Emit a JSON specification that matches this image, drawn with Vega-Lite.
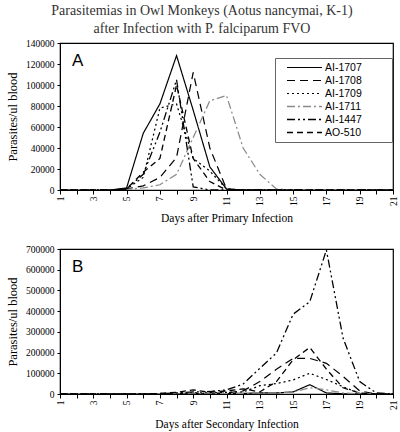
{
  "$schema": "https://vega.github.io/schema/vega-lite/v6.json",
  "background": "white",
  "padding": {"left": 5, "top": 4, "right": 5, "bottom": 4},
  "title": {
    "text": ["Parasitemias in Owl Monkeys (Aotus nancymai, K-1)", "after Infection with P. falciparum FVO"],
    "font": "Liberation Serif", "fontSize": 14, "fontWeight": "normal", "color": "#333",
    "lineHeight": 18, "anchor": "middle", "offset": 1
  },
  "spacing": 18,
  "datasets": {
    "primary": [
      {"day": 1, "AI-1707": 0, "AI-1708": 0, "AI-1709": 0, "AI-1711": 0, "AI-1447": 0, "AO-510": 0},
      {"day": 2, "AI-1707": 0, "AI-1708": 0, "AI-1709": 0, "AI-1711": 0, "AI-1447": 0, "AO-510": 0},
      {"day": 3, "AI-1707": 0, "AI-1708": 0, "AI-1709": 0, "AI-1711": 0, "AI-1447": 0, "AO-510": 0},
      {"day": 4, "AI-1707": 0, "AI-1708": 0, "AI-1709": 0, "AI-1711": 0, "AI-1447": 0, "AO-510": 0},
      {"day": 5, "AI-1707": 2000, "AI-1708": 1000, "AI-1709": 1000, "AI-1711": 500, "AI-1447": 1000, "AO-510": 1000},
      {"day": 6, "AI-1707": 54000, "AI-1708": 4000, "AI-1709": 12000, "AI-1711": 2000, "AI-1447": 15000, "AO-510": 17000},
      {"day": 7, "AI-1707": 82000, "AI-1708": 12000, "AI-1709": 78000, "AI-1711": 5000, "AI-1447": 55000, "AO-510": 30000},
      {"day": 8, "AI-1707": 128000, "AI-1708": 31000, "AI-1709": 82000, "AI-1711": 15000, "AI-1447": 105000, "AO-510": 100000},
      {"day": 9, "AI-1707": 76000, "AI-1708": 112000, "AI-1709": 30000, "AI-1711": 50000, "AI-1447": 3000, "AO-510": 30000},
      {"day": 10, "AI-1707": 22000, "AI-1708": 40000, "AI-1709": 18000, "AI-1711": 85000, "AI-1447": 0, "AO-510": 8000},
      {"day": 11, "AI-1707": 1000, "AI-1708": 1000, "AI-1709": 1000, "AI-1711": 90000, "AI-1447": 0, "AO-510": 0},
      {"day": 12, "AI-1707": 0, "AI-1708": 0, "AI-1709": 0, "AI-1711": 40000, "AI-1447": 0, "AO-510": 0},
      {"day": 13, "AI-1707": 0, "AI-1708": 0, "AI-1709": 0, "AI-1711": 15000, "AI-1447": 0, "AO-510": 0},
      {"day": 14, "AI-1707": 0, "AI-1708": 0, "AI-1709": 0, "AI-1711": 1000, "AI-1447": 0, "AO-510": 0},
      {"day": 15, "AI-1707": 0, "AI-1708": 0, "AI-1709": 0, "AI-1711": 0, "AI-1447": 0, "AO-510": 0},
      {"day": 16, "AI-1707": 0, "AI-1708": 0, "AI-1709": 0, "AI-1711": 0, "AI-1447": 0, "AO-510": 0},
      {"day": 17, "AI-1707": 0, "AI-1708": 0, "AI-1709": 0, "AI-1711": 0, "AI-1447": 0, "AO-510": 0},
      {"day": 18, "AI-1707": 0, "AI-1708": 0, "AI-1709": 0, "AI-1711": 0, "AI-1447": 0, "AO-510": 0},
      {"day": 19, "AI-1707": 0, "AI-1708": 0, "AI-1709": 0, "AI-1711": 0, "AI-1447": 0, "AO-510": 0},
      {"day": 20, "AI-1707": 0, "AI-1708": 0, "AI-1709": 0, "AI-1711": 0, "AI-1447": 0, "AO-510": 0},
      {"day": 21, "AI-1707": 0, "AI-1708": 0, "AI-1709": 0, "AI-1711": 0, "AI-1447": 0, "AO-510": 0}
    ],
    "secondary": [
      {"day": 1, "AI-1707": 0, "AI-1708": 0, "AI-1709": 0, "AI-1711": 0, "AI-1447": 0, "AO-510": 0},
      {"day": 2, "AI-1707": 0, "AI-1708": 0, "AI-1709": 0, "AI-1711": 0, "AI-1447": 0, "AO-510": 0},
      {"day": 3, "AI-1707": 0, "AI-1708": 0, "AI-1709": 0, "AI-1711": 0, "AI-1447": 0, "AO-510": 0},
      {"day": 4, "AI-1707": 0, "AI-1708": 0, "AI-1709": 0, "AI-1711": 0, "AI-1447": 0, "AO-510": 0},
      {"day": 5, "AI-1707": 0, "AI-1708": 0, "AI-1709": 0, "AI-1711": 0, "AI-1447": 0, "AO-510": 0},
      {"day": 6, "AI-1707": 0, "AI-1708": 0, "AI-1709": 0, "AI-1711": 0, "AI-1447": 0, "AO-510": 0},
      {"day": 7, "AI-1707": 0, "AI-1708": 0, "AI-1709": 0, "AI-1711": 0, "AI-1447": 2000, "AO-510": 3000},
      {"day": 8, "AI-1707": 0, "AI-1708": 2000, "AI-1709": 3000, "AI-1711": 0, "AI-1447": 5000, "AO-510": 8000},
      {"day": 9, "AI-1707": 1000, "AI-1708": 3000, "AI-1709": 5000, "AI-1711": 1000, "AI-1447": 10000, "AO-510": 20000},
      {"day": 10, "AI-1707": 1000, "AI-1708": 3000, "AI-1709": 5000, "AI-1711": 1000, "AI-1447": 12000, "AO-510": 8000},
      {"day": 11, "AI-1707": 2000, "AI-1708": 5000, "AI-1709": 8000, "AI-1711": 2000, "AI-1447": 20000, "AO-510": 15000},
      {"day": 12, "AI-1707": 3000, "AI-1708": 15000, "AI-1709": 10000, "AI-1711": 3000, "AI-1447": 48000, "AO-510": 25000},
      {"day": 13, "AI-1707": 5000, "AI-1708": 60000, "AI-1709": 40000, "AI-1711": 5000, "AI-1447": 124000, "AO-510": 10000},
      {"day": 14, "AI-1707": 5000, "AI-1708": 120000, "AI-1709": 50000, "AI-1711": 5000, "AI-1447": 198000, "AO-510": 60000},
      {"day": 15, "AI-1707": 10000, "AI-1708": 172000, "AI-1709": 68000, "AI-1711": 10000, "AI-1447": 385000, "AO-510": 165000},
      {"day": 16, "AI-1707": 45000, "AI-1708": 172000, "AI-1709": 100000, "AI-1711": 30000, "AI-1447": 445000, "AO-510": 225000},
      {"day": 17, "AI-1707": 5000, "AI-1708": 148000, "AI-1709": 70000, "AI-1711": 20000, "AI-1447": 695000, "AO-510": 120000},
      {"day": 18, "AI-1707": 1000, "AI-1708": 85000, "AI-1709": 35000, "AI-1711": 5000, "AI-1447": 270000, "AO-510": 30000},
      {"day": 19, "AI-1707": 0, "AI-1708": 15000, "AI-1709": 3000, "AI-1711": 0, "AI-1447": 60000, "AO-510": 5000},
      {"day": 20, "AI-1707": 0, "AI-1708": 0, "AI-1709": 0, "AI-1711": 0, "AI-1447": 5000, "AO-510": 0},
      {"day": 21, "AI-1707": 0, "AI-1708": 0, "AI-1709": 0, "AI-1711": 0, "AI-1447": 0, "AO-510": 0}
    ]
  },
  "vconcat": [
    {
      "width": 333,
      "height": 147,
      "title": {"text": "A", "anchor": "start", "frame": "group", "font": "Liberation Sans", "fontSize": 17, "fontWeight": "normal", "color": "black", "offset": -32, "dx": 12},
      "data": {"name": "primary"},
      "transform": [{"fold": ["AI-1707", "AI-1708", "AI-1709", "AI-1711", "AI-1447", "AO-510"], "as": ["series", "value"]}],
      "mark": {"type": "line", "clip": true},
      "encoding": {
        "x": {"field": "day", "type": "quantitative",
              "scale": {"domain": [1, 21], "nice": false, "zero": false},
              "axis": {"title": "Days after Primary Infection", "values": [1,2,3,4,5,6,7,8,9,10,11,12,13,14,15,16,17,18,19,20,21],
                       "labelExpr": "datum.value % 2 == 1 ? datum.label : ''", "labelAngle": -90, "tickSize": 4, "labelPadding": 2, "titlePadding": 7, "labelFlush": false, "labelOverlap": false}},
        "y": {"field": "value", "type": "quantitative",
              "scale": {"domain": [0, 140000], "nice": false},
              "axis": {"title": "Parasites/ul blood", "values": [0,20000,40000,60000,80000,100000,120000,140000], "format": "d", "tickSize": 3, "labelPadding": 3, "titlePadding": 6, "labelOverlap": false, "labelFlush": false}},
        "color": {"field": "series", "type": "nominal",
                  "scale": {"domain": ["AI-1707", "AI-1708", "AI-1709", "AI-1711", "AI-1447", "AO-510"], "range": ["black", "black", "black", "#8a8a8a", "black", "black"]},
                  "legend": {"title": " ", "titleOrient": "right", "titleAngle": 0, "titlePadding": 26, "titleFontSize": 10,
                             "orient": "none", "legendX": 215, "legendY": 15, "symbolType": "stroke", "symbolSize": 1225, "clipHeight": 11, "rowPadding": 2.0, "padding": 4, "symbolOffset": 7, "labelOffset": 2,
                             "strokeColor": "#666", "fillColor": "white", "labelFont": "Liberation Sans", "labelFontSize": 10.5, "labelColor": "black"}},
        "strokeDash": {"field": "series", "type": "nominal",
                       "scale": {"domain": ["AI-1707", "AI-1708", "AI-1709", "AI-1711", "AI-1447", "AO-510"], "range": [[1, 0], [8, 5], [2, 3], [8, 3, 2, 3], [8, 3, 2, 3, 2, 3], [6, 4]]},
                       "legend": {"title": " "}},
        "strokeWidth": {"field": "series", "type": "nominal",
                        "scale": {"domain": ["AI-1707", "AI-1708", "AI-1709", "AI-1711", "AI-1447", "AO-510"], "range": [1.2, 1.3, 1.3, 1.2, 1.3, 2.8]},
                        "legend": {"title": " "}}
      }
    },
    {
      "width": 333,
      "height": 145,
      "title": {"text": "B", "anchor": "start", "frame": "group", "font": "Liberation Sans", "fontSize": 17, "fontWeight": "normal", "color": "black", "offset": -32, "dx": 12},
      "data": {"name": "secondary"},
      "transform": [{"fold": ["AI-1707", "AI-1708", "AI-1709", "AI-1711", "AI-1447", "AO-510"], "as": ["series", "value"]}],
      "mark": {"type": "line", "clip": true},
      "encoding": {
        "x": {"field": "day", "type": "quantitative",
              "scale": {"domain": [1, 21], "nice": false, "zero": false},
              "axis": {"title": "Days after Secondary Infection", "values": [1,2,3,4,5,6,7,8,9,10,11,12,13,14,15,16,17,18,19,20,21],
                       "labelExpr": "datum.value % 2 == 1 ? datum.label : ''", "labelAngle": -90, "tickSize": 4, "labelPadding": 2, "titlePadding": 9, "labelFlush": false, "labelOverlap": false}},
        "y": {"field": "value", "type": "quantitative",
              "scale": {"domain": [0, 700000], "nice": false},
              "axis": {"title": "Parasites/ul blood", "values": [0,100000,200000,300000,400000,500000,600000,700000], "format": "d", "tickSize": 3, "labelPadding": 3, "titlePadding": 6, "labelOverlap": false, "labelFlush": false}},
        "color": {"field": "series", "type": "nominal",
                  "scale": {"domain": ["AI-1707", "AI-1708", "AI-1709", "AI-1711", "AI-1447", "AO-510"], "range": ["black", "black", "black", "#8a8a8a", "black", "black"]},
                  "legend": null},
        "strokeDash": {"field": "series", "type": "nominal",
                       "scale": {"domain": ["AI-1707", "AI-1708", "AI-1709", "AI-1711", "AI-1447", "AO-510"], "range": [[1, 0], [8, 5], [2, 3], [8, 3, 2, 3], [8, 3, 2, 3, 2, 3], [6, 4]]},
                       "legend": null},
        "strokeWidth": {"field": "series", "type": "nominal",
                        "scale": {"domain": ["AI-1707", "AI-1708", "AI-1709", "AI-1711", "AI-1447", "AO-510"], "range": [1.2, 1.3, 1.3, 1.2, 1.3, 2.8]},
                        "legend": null}
      }
    }
  ],
  "resolve": {
    "scale": {"x": "independent", "y": "independent", "color": "independent", "strokeDash": "independent", "strokeWidth": "independent"},
    "legend": {"color": "independent", "strokeDash": "independent", "strokeWidth": "independent"}
  },
  "config": {
    "font": "Liberation Serif",
    "view": {"stroke": "black", "strokeWidth": 1.2},
    "axis": {"grid": false, "labelFont": "Liberation Serif", "labelFontSize": 9.5, "labelColor": "black", "labelOverlap": false,
             "titleFont": "Liberation Serif", "titleFontSize": 11.5, "titleFontWeight": "normal", "titleColor": "black",
             "domainColor": "black", "tickColor": "black"},
    "axisY": {"titleFontSize": 12.5}
  }
}
